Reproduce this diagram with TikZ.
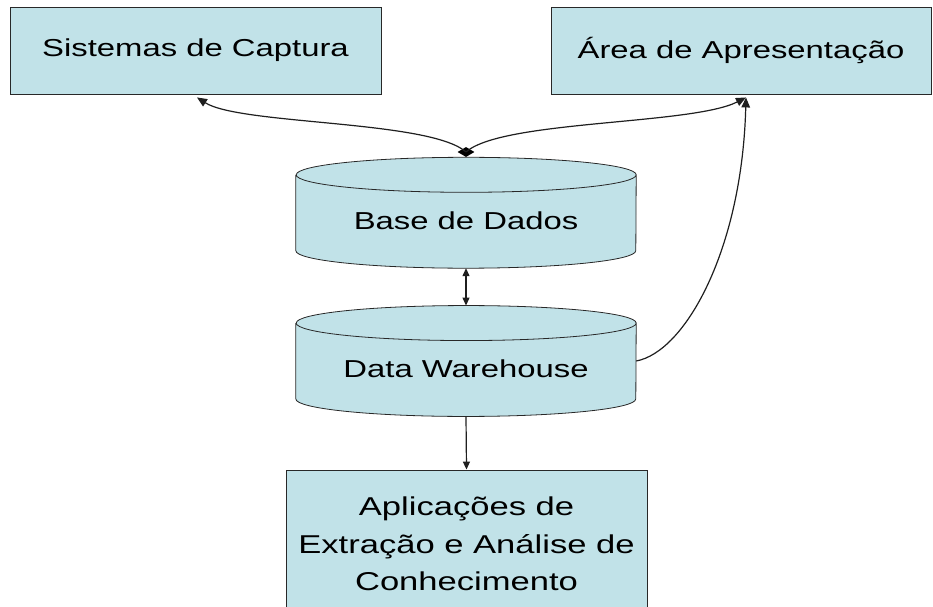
\documentclass[tikz,border=0pt]{standalone}
\usepackage{fontspec}
\setmainfont{Liberation Sans}[FakeStretch=1.34]
\usetikzlibrary{arrows.meta,shapes.geometric,backgrounds}
\definecolor{boxfill}{RGB}{193,226,232}
\definecolor{edgecol}{RGB}{40,40,40}
\newcommand\mycyl[1]{%
  \fill[boxfill] ([yshift=-17.5pt]#1.north west) -- ([yshift=17.5pt]#1.south west)
    arc[start angle=180,end angle=360,x radius=170pt,y radius=17.5pt]
    -- ([yshift=-17.5pt]#1.north east)
    arc[start angle=0,end angle=180,x radius=170pt,y radius=17.5pt] -- cycle;
  \draw[cylline] ([yshift=-17.5pt]#1.north west) -- ([yshift=17.5pt]#1.south west)
    arc[start angle=180,end angle=360,x radius=170pt,y radius=17.5pt]
    -- ([yshift=-17.5pt]#1.north east)
    arc[start angle=0,end angle=180,x radius=170pt,y radius=17.5pt]
    arc[start angle=180,end angle=360,x radius=170pt,y radius=17.5pt];
}
\begin{document}
\begin{tikzpicture}[x=1pt,y=1pt,
  box/.style={draw=edgecol, fill=boxfill, line width=0.9pt, inner sep=0pt,
    font=\fontsize{24.5}{37.5}\selectfont, align=center},
  cylnode/.style={inner sep=0pt, minimum width=340pt, minimum height=110.5pt,
    text height=40pt, text depth=7.5pt, font=\fontsize{24.5}{37.5}\selectfont},
  cylline/.style={draw=edgecol, line width=0.8pt},
  conn/.style={draw=black!88, line width=1.2pt},
  tip/.style={-{Triangle[length=10pt,width=8.5pt]}},
  dtip/.style={{Triangle[length=8pt,width=7pt]}-{Triangle[length=8pt,width=7pt]}},
  stip/.style={-{Triangle[length=8pt,width=7pt]}},
  ]
\useasboundingbox (0,0) rectangle (933,606);
\node[box, minimum width=371pt, minimum height=87pt] (lb) at (195.5,555.5) {Sistemas de Captura};
\node[box, minimum width=380pt, minimum height=87pt] (rb) at (741,555.5) {Área de Apresentação};
\node[cylnode] (bd) at (466,393.25) {Base de Dados};
\node[cylnode] (dw) at (466,245) {Data Warehouse};
\begin{scope}[on background layer]
  \mycyl{bd}
  \mycyl{dw}
\end{scope}
\node[box, minimum width=361pt, minimum height=148pt, font=\fontsize{25.8}{37.5}\selectfont] (app) at (466.5,62) {Aplicações de\\Extração e Análise de\\Conhecimento};
\node[diamond, fill=black, inner sep=0pt, aspect=1.8, minimum width=17pt, minimum height=10pt] (dm) at (466,454) {};
\draw[conn,tip] (dm.center) .. controls (430,486) and (240,481) .. ([xshift=1.5pt,yshift=-3pt]lb.south);
\draw[conn,tip] (dm.center) .. controls (502,486) and (692,481) .. ([xshift=5pt,yshift=-3pt]rb.south);
\draw[conn,tip] (dw.east) .. controls (685,254) and (742,356) .. ([xshift=5pt,yshift=-3pt]rb.south);
\draw[conn,dtip] (bd.south) -- (dw.north);
\draw[conn,stip] (dw.south) -- (app.north);
\end{tikzpicture}
\end{document}
